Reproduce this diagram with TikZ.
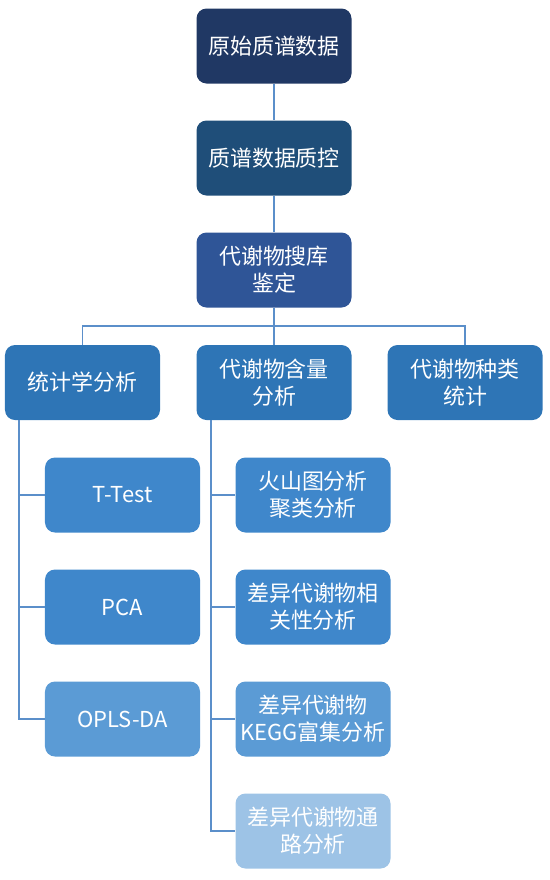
\documentclass[tikz,border=0pt]{standalone}
\usepackage{fontspec}
\setmainfont{Noto Sans CJK SC}
\usepackage{tikz}
\usetikzlibrary{positioning, calc}

\definecolor{cTop}{HTML}{203864}
\definecolor{cQc}{HTML}{1F4E79}
\definecolor{cLib}{HTML}{2F5597}
\definecolor{cRow}{HTML}{2E75B6}
\definecolor{cSub}{HTML}{3F87CB}
\definecolor{cSubB}{HTML}{5B9BD5}
\definecolor{cSubC}{HTML}{9DC3E6}
\definecolor{cLine}{HTML}{5B8FCA}

\begin{document}
\begin{tikzpicture}[
    box/.style={rounded corners=0.2cm, minimum width=3.1cm, minimum height=1.5cm,
      text=white, align=center, font=\fontsize{12.5}{15.3}\selectfont, inner sep=1pt},
    link/.style={draw=cLine, line width=1.1pt}
  ]
  \useasboundingbox (0,0) rectangle (11,-17.6);

  % Main chain
  \node[box, fill=cTop] (raw) at (5.48,-0.92) {原始质谱数据};
  \node[box, fill=cQc] (qc) at (5.48,-3.16) {质谱数据质控};
  \node[box, fill=cLib] (ident) at (5.48,-5.40) {代谢物搜库\\鉴定};

  % Second row
  \node[box, fill=cRow] (stat) at (1.65,-7.65) {统计学分析};
  \node[box, fill=cRow] (amount) at (5.48,-7.65) {代谢物含量\\分析};
  \node[box, fill=cRow] (kind) at (9.30,-7.65) {代谢物种类\\统计};

  % Statistics branch
  \node[box, fill=cSub] (ttest) at (2.45,-9.90) {T-Test};
  \node[box, fill=cSub] (pca) at (2.45,-12.14) {PCA};
  \node[box, fill=cSubB] (opls) at (2.45,-14.38) {OPLS-DA};

  % Content branch
  \node[box, fill=cSub] (volcano) at (6.26,-9.90) {火山图分析\\聚类分析};
  \node[box, fill=cSub] (corr) at (6.26,-12.14) {差异代谢物相\\关性分析};
  \node[box, fill=cSubB] (kegg) at (6.26,-14.38) {差异代谢物\\KEGG富集分析};
  \node[box, fill=cSubC] (path) at (6.26,-16.62) {差异代谢物通\\路分析};

  % Connectors
  \draw[link] (raw) -- (qc);
  \draw[link] (qc) -- (ident);
  \coordinate (bus) at (5.48,-6.52);
  \draw[link] (ident) -- (bus) -| (stat);
  \draw[link] (bus) -| (kind);
  \draw[link] (bus) -- (amount);

  \coordinate (statroot) at (0.38,-8.40);
  \draw[link] (statroot) |- (ttest);
  \draw[link] (statroot) |- (pca);
  \draw[link] (statroot) |- (opls);

  \coordinate (amountroot) at (4.22,-8.40);
  \draw[link] (amountroot) |- (volcano);
  \draw[link] (amountroot) |- (corr);
  \draw[link] (amountroot) |- (kegg);
  \draw[link] (amountroot) |- (path);
\end{tikzpicture}
\end{document}
